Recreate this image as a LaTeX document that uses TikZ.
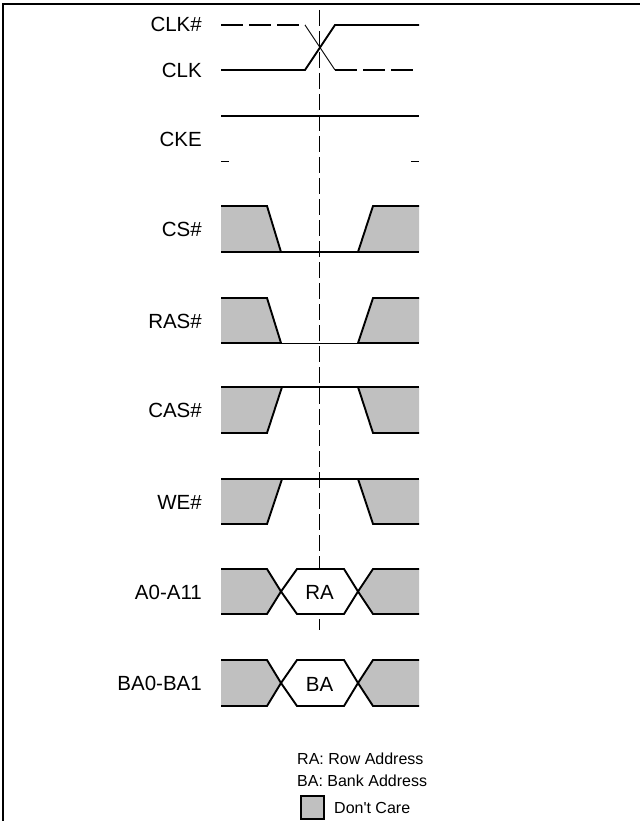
\documentclass[tikz,border=0pt]{standalone}
\usepackage{fontspec}
\setmainfont{Liberation Sans}
\newfontfamily\legfont{Liberation Sans}
\definecolor{dcgrey}{RGB}{192,192,192}
\begin{document}
\begin{tikzpicture}[x=1pt,y=-1pt,
  sig/.style={line width=1.9pt, line join=miter},
  thin/.style={line width=0.9pt},
  dashsig/.style={line width=1.1pt, dash pattern=on 22pt off 6pt},
  grey/.style={fill=dcgrey, draw=none},
  lbl/.style={anchor=base east, inner sep=0pt, font=\fontsize{20.5}{24}\selectfont},
  leg/.style={anchor=base west, inner sep=0pt, font=\legfont\fontsize{16}{19}\selectfont},
  frame/.style={line width=1.4pt}]
\useasboundingbox (0,0) rectangle (640,821);
% frame
\draw[frame] (3,821) -- (3,4) -- (640,4);
% vertical reference line
\draw[thin, dash pattern=on 16pt off 5pt] (319,10) -- (319,630);
% labels
\node[lbl] (lclkn) at (202,31.5) {CLK\#};
\node[lbl] (lclk) at (202,78) {CLK};
\node[lbl] (lcke) at (202,146.5) {CKE};
\node[lbl] (lcs) at (202,236.5) {CS\#};
\node[lbl] (lras) at (202,328) {RAS\#};
\node[lbl] (lcas) at (202,417.5) {CAS\#};
\node[lbl] (lwe) at (202,509) {WE\#};
\node[lbl] (la) at (202,599) {A0-A11};
\node[lbl] (lba) at (202,690.5) {BA0-BA1};
% CLK# / CLK
\draw[dashsig] (221,25) -- (305,25);
\draw[thin] (305,25) -- (335,70);
\draw[dashsig] (335,70) -- (419,70);
\draw[sig] (221,70) -- (305,70) -- (335,25) -- (419,25);
% CKE
\draw[sig] (221,116) -- (419,116);
\draw[thin] (221,161) -- (229,161);
\draw[thin] (411,161) -- (419,161);
% CS#
\fill[dcgrey] (221,206) -- (267,206) -- (281,252) -- (221,252) -- cycle;
\fill[dcgrey] (358,252) -- (373,206) -- (419,206) -- (419,252) -- cycle;
\draw[sig] (221,206) -- (267,206) -- (281,252);
\draw[sig] (358,252) -- (373,206) -- (419,206);
\draw[sig] (221,252) -- (419,252);
% RAS#
\fill[dcgrey] (221,298) -- (267,298) -- (281,343) -- (221,343) -- cycle;
\fill[dcgrey] (358,343) -- (373,298) -- (419,298) -- (419,343) -- cycle;
\draw[sig] (221,298) -- (267,298) -- (281,343);
\draw[sig] (358,343) -- (373,298) -- (419,298);
\draw[sig] (221,343) -- (281,343);
\draw[thin] (281,343) -- (358,343);
\draw[sig] (358,343) -- (419,343);
% CAS#
\fill[dcgrey] (221,387) -- (282,387) -- (267,433) -- (221,433) -- cycle;
\fill[dcgrey] (358,387) -- (419,387) -- (419,433) -- (373,433) -- cycle;
\draw[sig] (221,433) -- (267,433) -- (282,387);
\draw[sig] (358,387) -- (373,433) -- (419,433);
\draw[sig] (221,387) -- (419,387);
% WE#
\fill[dcgrey] (221,479) -- (282,479) -- (267,524) -- (221,524) -- cycle;
\fill[dcgrey] (358,479) -- (419,479) -- (419,524) -- (373,524) -- cycle;
\draw[sig] (221,524) -- (267,524) -- (282,479);
\draw[sig] (358,479) -- (373,524) -- (419,524);
\draw[sig] (221,479) -- (419,479);
% A0-A11
\fill[dcgrey] (221,569) -- (267,569) -- (281,591.5) -- (267,614) -- (221,614) -- cycle;
\fill[dcgrey] (419,569) -- (373,569) -- (358,591.5) -- (373,614) -- (419,614) -- cycle;
\draw[sig] (221,569) -- (267,569) -- (281,591.5) -- (267,614) -- (221,614);
\draw[sig] (419,569) -- (373,569) -- (358,591.5) -- (373,614) -- (419,614);
\draw[sig, fill=white] (281,591.5) -- (297,569) -- (344,569) -- (358,591.5) -- (344,614) -- (297,614) -- cycle;
\node[font=\fontsize{20.5}{24}\selectfont, inner sep=0pt] (ra) at (319.5,592) {RA};
% BA0-BA1
\fill[dcgrey] (221,660) -- (267,660) -- (281,683) -- (267,706) -- (221,706) -- cycle;
\fill[dcgrey] (419,660) -- (373,660) -- (358,683) -- (373,706) -- (419,706) -- cycle;
\draw[sig] (221,660) -- (267,660) -- (281,683) -- (267,706) -- (221,706);
\draw[sig] (419,660) -- (373,660) -- (358,683) -- (373,706) -- (419,706);
\draw[sig, fill=white] (281,683) -- (297,660) -- (344,660) -- (358,683) -- (344,706) -- (297,706) -- cycle;
\node[font=\fontsize{20.5}{24}\selectfont, inner sep=0pt] (ba) at (319.5,684) {BA};
% legend
\node[leg] (legra) at (297,764.3) {RA: Row Address};
\node[leg] (legba) at (297,786.7) {BA: Bank Address};
\draw[line width=1.3pt, fill=dcgrey] (301,796) rectangle (324,819);
\node[leg] (legdc) at (334,813.3) {Don't Care};
\end{tikzpicture}
\end{document}
